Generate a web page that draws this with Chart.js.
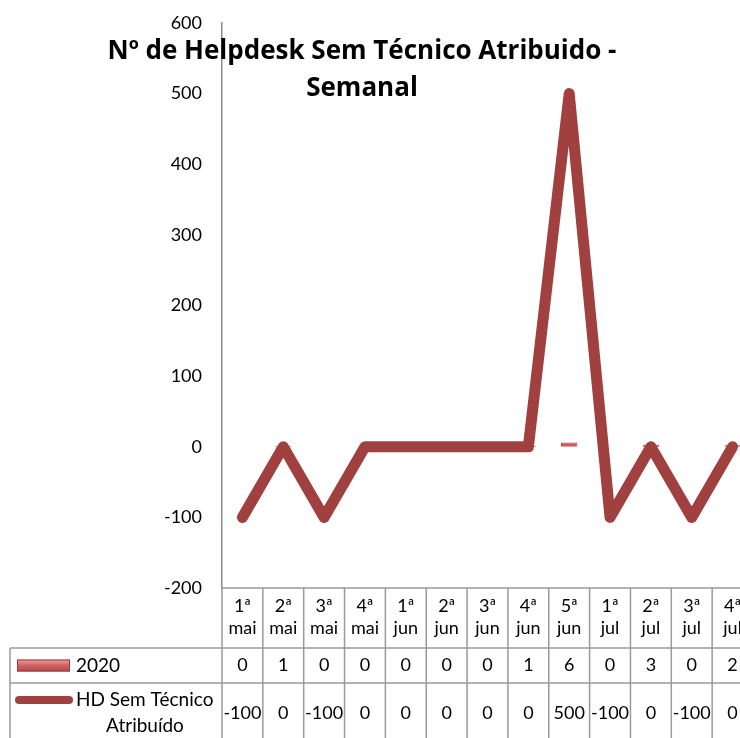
<!DOCTYPE html>
<html>
<head>
<meta charset="utf-8">
<script src="https://cdn.jsdelivr.net/npm/chart.js@4"></script>
<style>
  html, body { margin: 0; padding: 0; background: #fff; overflow: hidden; }
  #wrap { width: 740px; height: 738px; overflow: hidden; }
</style>
</head>
<body>
<div id="wrap"><canvas id="c" width="760" height="738"></canvas></div>
<script>
const titleLines = ['Nº de Helpdesk Sem Técnico Atribuido -', 'Semanal'];
const weekLabels = ['1ª', '2ª', '3ª', '4ª', '1ª', '2ª', '3ª', '4ª', '5ª', '1ª', '2ª', '3ª', '4ª'];
const monthLabels = ['mai', 'mai', 'mai', 'mai', 'jun', 'jun', 'jun', 'jun', 'jun', 'jul', 'jul', 'jul', 'jul'];
const categories = weekLabels.map((w, i) => w + ' ' + monthLabels[i]);
const series2020 = [0, 1, 0, 0, 0, 0, 0, 1, 6, 0, 3, 0, 2];
const seriesHD = [-100, 0, -100, 0, 0, 0, 0, 0, 500, -100, 0, -100, 0];
const seriesNames = ['2020', ['HD Sem Técnico', 'Atribuído']];
const yTicks = { min: -200, max: 600, step: 100 };

const FONT = 'Lato, "Open Sans", sans-serif';
const TITLE_FONT = '"Open Sans", Lato, sans-serif';
const GRID = '#9a9a9a';
const LINE_COLOR = '#A0403F';

const tablePlugin = {
  id: 'dataTable',
  afterDraw(chart) {
    const ctx = chart.ctx;
    const xs = chart.scales.x;
    const area = chart.chartArea;
    const n = categories.length;
    const colW = (area.right - area.left) / n;
    const top = area.bottom;
    const headerBottom = top + 60;
    const row1Bottom = headerBottom + 35;
    const bottom = chart.height + 2;
    const tableLeft = 10;

    ctx.save();
    ctx.strokeStyle = GRID;
    ctx.lineWidth = 1.5;
    ctx.beginPath();
    ctx.moveTo(area.left, top); ctx.lineTo(chart.width, top);
    ctx.moveTo(tableLeft, headerBottom); ctx.lineTo(chart.width, headerBottom);
    ctx.moveTo(tableLeft, row1Bottom); ctx.lineTo(chart.width, row1Bottom);
    ctx.moveTo(tableLeft, headerBottom); ctx.lineTo(tableLeft, bottom);
    for (let i = 0; i <= n; i++) {
      const bx = xs.getPixelForValue(i) - colW / 2;
      ctx.moveTo(bx, top); ctx.lineTo(bx, bottom);
    }
    ctx.stroke();

    ctx.fillStyle = '#000';
    ctx.font = '18px ' + FONT;
    ctx.textAlign = 'center';
    ctx.textBaseline = 'middle';
    for (let i = 0; i < n; i++) {
      const cx = xs.getPixelForValue(i);
      ctx.fillText(weekLabels[i], cx, top + 18);
      ctx.fillText(monthLabels[i], cx, top + 40);
      ctx.fillText(String(series2020[i]), cx, (headerBottom + row1Bottom) / 2);
      ctx.fillText(String(seriesHD[i]), cx, row1Bottom + 30);
    }

    // legend keys
    const r1y = (headerBottom + row1Bottom) / 2;
    const g = ctx.createLinearGradient(0, r1y - 6, 0, r1y + 6);
    g.addColorStop(0, '#f0a0a0');
    g.addColorStop(0.5, '#d06262');
    g.addColorStop(1, '#b04848');
    ctx.fillStyle = g;
    ctx.fillRect(17, r1y - 6, 53, 12);
    ctx.strokeStyle = '#9a3a3a';
    ctx.lineWidth = 1;
    ctx.strokeRect(17.5, r1y - 5.5, 52, 11);

    ctx.strokeStyle = LINE_COLOR;
    ctx.lineWidth = 8;
    ctx.lineCap = 'round';
    ctx.beginPath();
    ctx.moveTo(19, row1Bottom + 17); ctx.lineTo(69, row1Bottom + 17);
    ctx.stroke();

    ctx.fillStyle = '#000';
    ctx.font = '19px ' + FONT;
    ctx.textAlign = 'left';
    ctx.fillText(seriesNames[0], 76, r1y);
    ctx.fillText(seriesNames[1][0], 76, row1Bottom + 17);
    ctx.textAlign = 'center';
    ctx.fillText(seriesNames[1][1], 145, row1Bottom + 43);

    // title
    ctx.font = 'bold 26px ' + TITLE_FONT;
    ctx.fillText(titleLines[0], 362, 52);
    ctx.fillText(titleLines[1], 362, 89);
    ctx.restore();
  }
};

new Chart(document.getElementById('c'), {
  data: {
    labels: categories,
    datasets: [
      {
        type: 'line',
        label: 'HD Sem Técnico Atribuído',
        data: seriesHD,
        borderColor: LINE_COLOR,
        backgroundColor: LINE_COLOR,
        borderWidth: 11,
        borderJoinStyle: 'round',
        borderCapStyle: 'round',
        pointRadius: 0,
        tension: 0,
        order: 1
      },
      {
        type: 'bar',
        label: '2020',
        data: series2020,
        backgroundColor: '#cf5a5a',
        borderColor: '#a84444',
        borderWidth: 1,
        categoryPercentage: 0.4,
        barPercentage: 1,
        order: 2
      }
    ]
  },
  options: {
    responsive: false,
    animation: false,
    devicePixelRatio: 1,
    layout: { padding: { top: 23, right: 7, left: 0, bottom: 0 } },
    plugins: { legend: { display: false }, title: { display: false }, tooltip: { enabled: false } },
    scales: {
      x: {
        type: 'category',
        offset: true,
        grid: { display: false, drawTicks: false },
        border: { display: false },
        ticks: { display: false },
        afterFit(s) { s.height = 150; s.paddingLeft = 0; s.paddingRight = 0; }
      },
      y: {
        min: yTicks.min,
        max: yTicks.max,
        grid: { display: false, drawTicks: false },
        border: { display: true, color: '#8c8c8c', width: 1.5 },
        ticks: { stepSize: yTicks.step, color: '#000', font: { family: FONT, size: 18 }, padding: 20 },
        afterFit(s) { s.width = 222; s.paddingTop = 0; s.paddingBottom = 0; }
      }
    }
  },
  plugins: [tablePlugin]
});
</script>
</body>
</html>
